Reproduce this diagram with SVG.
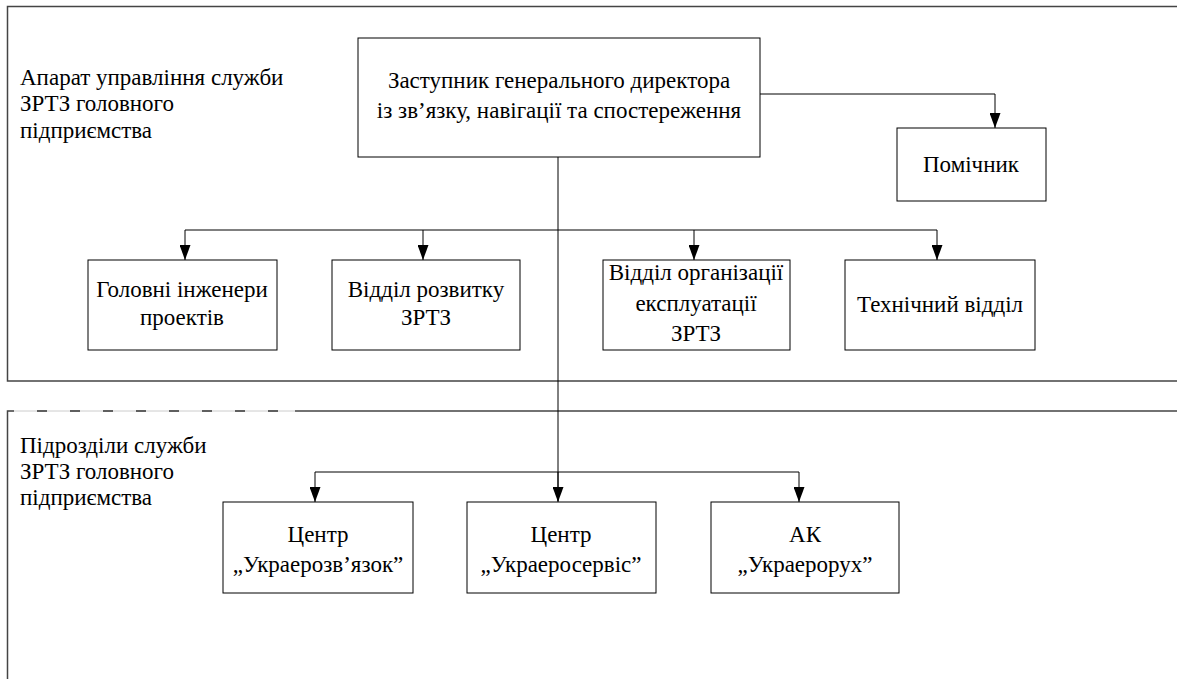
<svg xmlns="http://www.w3.org/2000/svg" width="1177" height="679" viewBox="0 0 1177 679">
<defs>
<marker id="arr" markerWidth="15" markerHeight="11" refX="15" refY="5.5" orient="auto" markerUnits="userSpaceOnUse" viewBox="0 0 15 11">
<path d="M0,0 L15,5.5 L0,11 Z" fill="#000"/>
</marker>
</defs>
<style>
.t{font-family:'Liberation Serif','Times New Roman',serif;font-size:23px;fill:#000}
.c{text-anchor:middle}
.box{fill:#fff;stroke:#000;stroke-width:1}
.area{fill:none;stroke:#444;stroke-width:1.5}
.ln{fill:none;stroke:#000;stroke-width:1}
.la{fill:none;stroke:#000;stroke-width:1;marker-end:url(#arr)}
</style>
<rect width="1177" height="679" fill="#fff"/>
<g id="areas">
<path class="area" d="M1177,6.5 H7.5 V381 H1177"/>
<path d="M7.5,411 H295" fill="none" stroke="#ccc" stroke-width="1"/>
<path d="M37,411 H295" fill="none" stroke="#333" stroke-width="1.5" stroke-dasharray="10 23"/>
<path class="area" d="M7.5,679 V411 H14 M295,411 H1177"/>
<text class="t" x="20" y="85">Апарат управління служби</text>
<text class="t" x="20" y="111">ЗРТЗ головного</text>
<text class="t" x="20" y="138">підприємства</text>
<text class="t" x="20" y="453">Підрозділи служби</text>
<text class="t" x="20" y="479">ЗРТЗ головного</text>
<text class="t" x="20" y="505">підприємства</text>
</g>
<g id="connectors">
<path class="la" d="M760,94 H995 V128"/>
<path class="ln" d="M558,157 V501"/>
<path class="ln" d="M185,230 H937"/>
<path class="la" d="M185,230 V260"/>
<path class="la" d="M423,230 V260"/>
<path class="la" d="M694,230 V260"/>
<path class="la" d="M937,230 V260"/>
<path class="ln" d="M315,472 H799"/>
<path class="la" d="M315,472 V502"/>
<path class="la" d="M558,472 V502"/>
<path class="la" d="M799,472 V502"/>
</g>
<g id="n-deputy">
<rect class="box" x="358" y="38" width="402" height="119"/>
<text class="t c" x="559" y="88">Заступник генерального директора</text>
<text class="t c" x="559" y="118">із зв’язку, навігації та спостереження</text>
</g>
<g id="n-assistant">
<rect class="box" x="897" y="128" width="149" height="73"/>
<text class="t c" x="971" y="172">Помічник</text>
</g>
<g id="n-engineers">
<rect class="box" x="88" y="260" width="189" height="90"/>
<text class="t c" x="182" y="297">Головні інженери</text>
<text class="t c" x="182" y="325">проектів</text>
</g>
<g id="n-development">
<rect class="box" x="332" y="260" width="188" height="90"/>
<text class="t c" x="426" y="297">Відділ розвитку</text>
<text class="t c" x="426" y="325">ЗРТЗ</text>
</g>
<g id="n-operation">
<rect class="box" x="603" y="260" width="187" height="90"/>
<text class="t c" x="696" y="280">Відділ організації</text>
<text class="t c" x="696" y="311">експлуатації</text>
<text class="t c" x="696" y="341">ЗРТЗ</text>
</g>
<g id="n-technical">
<rect class="box" x="845" y="260" width="190" height="90"/>
<text class="t c" x="940" y="312">Технічний відділ</text>
</g>
<g id="n-svyazok">
<rect class="box" x="223" y="502" width="190" height="91"/>
<text class="t c" x="318" y="542">Центр</text>
<text class="t c" x="318" y="572">„Украерозв’язок”</text>
</g>
<g id="n-servis">
<rect class="box" x="467" y="502" width="189" height="91"/>
<text class="t c" x="561" y="542">Центр</text>
<text class="t c" x="561" y="572">„Украеросервіс”</text>
</g>
<g id="n-rukh">
<rect class="box" x="711" y="502" width="188" height="91"/>
<text class="t c" x="805" y="542">АК</text>
<text class="t c" x="805" y="572">„Украерорух”</text>
</g>
</svg>
